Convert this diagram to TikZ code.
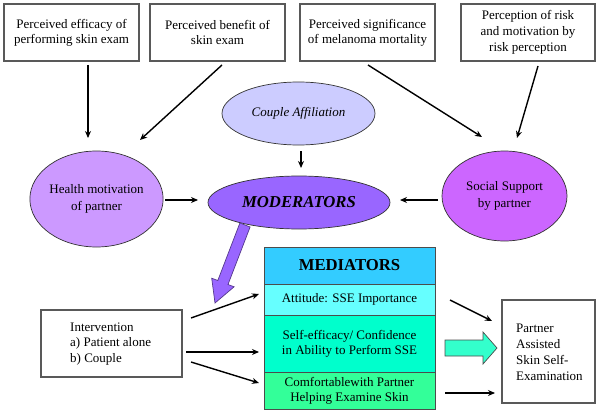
\documentclass[tikz,border=0pt]{standalone}
\usepackage{fontspec}
\setmainfont{Liberation Serif}
\usetikzlibrary{shapes.geometric,arrows.meta}
\definecolor{couplec}{HTML}{CCCCFF}
\definecolor{modc}{HTML}{9966FF}
\definecolor{healthc}{HTML}{CC99FF}
\definecolor{socialc}{HTML}{CC66FF}
\definecolor{medhead}{HTML}{33CCFF}
\definecolor{attc}{HTML}{66FFFF}
\definecolor{selfc}{HTML}{00FFCC}
\definecolor{comfc}{HTML}{33FF99}
\definecolor{tarrowc}{HTML}{33FFCC}
\tikzset{
  topbox/.style={draw=black!65, line width=1.1pt, inner sep=0pt, align=center,
    font=\fontsize{13}{15}\selectfont},
  oval/.style={ellipse, draw=black!80, line width=0.7pt, inner sep=0pt, align=center,
    font=\fontsize{13}{17.5}\selectfont},
  medbox/.style={rectangle, draw=black!70, line width=0.7pt, inner sep=0pt, align=center,
    font=\fontsize{13}{15}\selectfont, minimum width=171pt},
  plainbox/.style={draw=black!65, line width=1.1pt},
  boxtext/.style={anchor=west, align=left, inner sep=0pt},
  conn/.style={-{Stealth[length=7pt,width=6pt]}, line width=1.4pt},
}
\begin{document}
\begin{tikzpicture}[x=1pt,y=-1pt]
\useasboundingbox (0,0) rectangle (600,412);
% top boxes
\node[topbox, minimum width=135pt, minimum height=57pt] (b1) at (71.5,32.5) {Perceived efficacy of\\performing skin exam};
\node[topbox, minimum width=135pt, minimum height=57pt] (b2) at (217.5,32.5) {Perceived benefit of\\skin exam};
\node[topbox, minimum width=135pt, minimum height=57pt] (b3) at (367.5,32.5) {Perceived significance\\of melanoma mortality};
\node[topbox, minimum width=134pt, minimum height=57pt, font=\fontsize{13}{16}\selectfont] (b4) at (528,32.5) {Perception of risk\\and motivation by\\risk perception};
% ellipses
\node[oval, fill=couplec, minimum width=153pt, minimum height=63pt] (couple) at (298.5,113.5) {\itshape Couple Affiliation};
\node[oval, fill=modc, minimum width=182pt, minimum height=53pt, font=\fontsize{16.7}{18}\selectfont\bfseries\itshape] (mod) at (299,202.5) {MODERATORS};
\node[oval, fill=healthc, minimum width=131pt, minimum height=96pt] (health) at (96.5,199) {Health motivation\\of partner};
\node[oval, fill=socialc, minimum width=125pt, minimum height=90pt] (social) at (504.5,196) {Social Support\\by partner};
% arrows to ellipses
\coordinate (a1s) at (88,65); \coordinate (a1e) at (88,138);
\draw[conn] (a1s) -- (a1e);
\coordinate (a2s) at (222,65); \coordinate (a2e) at (140,140);
\draw[conn] (a2s) -- (a2e);
\coordinate (a3s) at (368,65); \coordinate (a3e) at (482,137);
\draw[conn] (a3s) -- (a3e);
\coordinate (a4s) at (538,66); \coordinate (a4e) at (517,138);
\draw[conn] (a4s) -- (a4e);
\coordinate (a5s) at (301,151); \coordinate (a5e) at (301,168);
\draw[conn] (a5s) -- (a5e);
\coordinate (a6s) at (165,200); \coordinate (a6e) at (198,200);
\draw[conn] (a6s) -- (a6e);
\coordinate (a7s) at (438,200); \coordinate (a7e) at (400,200);
\draw[conn] (a7s) -- (a7e);
% big purple arrow
\draw[draw=modc!55!black, fill=modc, line width=0.7pt, line join=miter]
  (250.1,227.0) -- (228.0,284.5) -- (234.1,286.8) -- (215,303) -- (211.7,278.2)
  -- (217.8,280.5) -- (239.9,223.0) -- cycle;
% mediators stack
\node[medbox, fill=medhead, minimum height=37pt, font=\fontsize{16.7}{18}\selectfont\bfseries] (medh) at (349.5,265.5) {MEDIATORS};
\node[medbox, fill=attc, minimum height=31pt] (att) at (349.5,299.5) {Attitude: SSE Importance};
\node[medbox, fill=selfc, minimum height=57pt] (self) at (349.5,343.5) {Self-efficacy/ Confidence\\in Ability to Perform SSE};
\node[medbox, fill=comfc, minimum height=37pt] (comf) at (349.5,390.5) {Comfortablewith Partner\\Helping Examine Skin};
% intervention
\node[plainbox, minimum width=141pt, minimum height=67pt] (interv) at (111.5,343.5) {};
\node[boxtext, font=\fontsize{13}{15.5}\selectfont] (intt) at (70,344) {Intervention\\a) Patient alone\\b) Couple};
% partner box
\node[plainbox, minimum width=93pt, minimum height=103pt] (partner) at (548.5,351.5) {};
\node[boxtext, font=\fontsize{13}{16}\selectfont] (partt) at (516,352) {Partner\\Assisted\\Skin Self-\\Examination};
% intervention arrows
\coordinate (i1s) at (191,318); \coordinate (i1e) at (259,294);
\draw[conn] (i1s) -- (i1e);
\coordinate (i2s) at (186,352); \coordinate (i2e) at (259,352);
\draw[conn] (i2s) -- (i2e);
\coordinate (i3s) at (191,362); \coordinate (i3e) at (259,383);
\draw[conn] (i3s) -- (i3e);
% mediator outputs
\coordinate (m1s) at (450,300); \coordinate (m1e) at (492,321);
\draw[conn] (m1s) -- (m1e);
\coordinate (m3s) at (445,393); \coordinate (m3e) at (495,393);
\draw[conn] (m3s) -- (m3e);
% big teal arrow
\draw[draw=black!70, fill=tarrowc, line width=0.7pt, line join=miter]
  (445,340) -- (483,340) -- (483,332) -- (497,348) -- (483,364) -- (483,356) -- (445,356) -- cycle;
\end{tikzpicture}
\end{document}
